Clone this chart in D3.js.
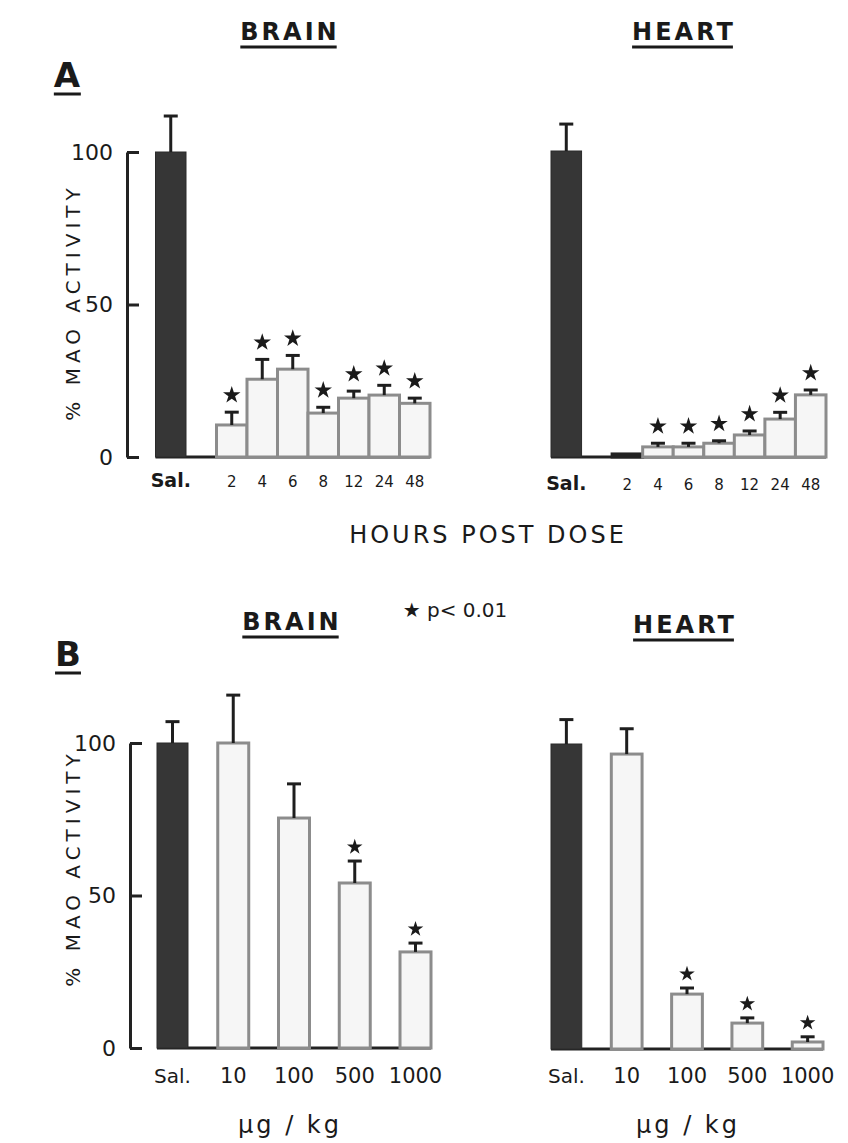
<!DOCTYPE html>
<html>
<head>
<meta charset="utf-8">
<script src="https://cdn.jsdelivr.net/npm/d3@7"></script>
<style>
  body { margin: 0; background: #fff; }
  text { font-family: "DejaVu Sans", "Liberation Sans", sans-serif; fill: #1a1a1a; }
</style>
</head>
<body>
<div id="chart-container"></div>
<script>
// MAO activity figure, panels A (time course) and B (dose response)
const svgWidth = 848;
const svgHeight = 1143;

// panel A: hours post dose
const hourLabels = ["Sal.", "2", "4", "6", "8", "12", "24", "48"];
const brainHourMean = [100, 10.5, 25.5, 28.8, 14.4, 19.3, 20.3, 17.6];
const brainHourErr = [11.8, 4.2, 6.5, 4.5, 1.9, 2.3, 3.2, 1.7];
const brainHourSig = [false, true, true, true, true, true, true, true];
const heartHourMean = [100, 1, 3.3, 3.3, 4.5, 7.2, 12.4, 20.3];
const heartHourErr = [8.8, 0, 1.2, 1.2, 0.8, 1.3, 2.2, 1.6];
const heartHourSig = [false, false, true, true, true, true, true, true];

// panel B: dose (ug/kg)
const doseLabels = ["Sal.", "10", "100", "500", "1000"];
const brainDoseMean = [100, 100, 75.4, 54.1, 31.5];
const brainDoseErr = [7, 15.7, 11.2, 7.2, 2.9];
const brainDoseSig = [false, false, false, true, true];
const heartDoseMean = [100, 96.7, 18, 8.5, 2.3];
const heartDoseErr = [8, 8.3, 2, 1.7, 1.7];
const heartDoseSig = [false, false, true, true, true];

const yTicks = [0, 50, 100];

const svg = d3.select("#chart-container")
    .append("svg")
    .attr("width", svgWidth)
    .attr("height", svgHeight);

// make rows of objects from the arrays
function rows(labels, mean, err, sig) {
    return labels.map((l, i) => ({ label: l, mean: mean[i], err: err[i], sig: sig[i] }));
}

function drawPanel(opt) {
    const data = opt.data;
    const y = d3.scaleLinear().domain([0, 100]).range([opt.y0, opt.y100]);
    const x = d3.scaleBand()
        .domain(opt.domain)
        .range([opt.x0, opt.x1])
        .paddingInner(opt.pad)
        .paddingOuter(0);
    const g = svg.append("g");

    // baseline along zero
    g.append("line")
        .attr("x1", opt.x0)
        .attr("x2", opt.x1)
        .attr("y1", y(0))
        .attr("y2", y(0))
        .attr("stroke", "#222")
        .attr("stroke-width", 3);

    // bars
    g.selectAll(".bar")
        .data(data)
        .enter()
        .append("rect")
        .attr("x", d => x(d.label))
        .attr("y", d => y(d.mean))
        .attr("width", x.bandwidth())
        .attr("height", d => y(0) - y(d.mean))
        .attr("fill", (d, i) => i == 0 ? "#363636" : (d.mean < 2 ? "#222" : "#f6f6f6"))
        .attr("stroke", (d, i) => i == 0 ? "#2a2a2a" : (d.mean < 2 ? "#222" : "#8c8c8c"))
        .attr("stroke-width", (d, i) => i == 0 ? 1 : 3);

    // error bars
    const eb = g.selectAll(".err")
        .data(data.filter(d => d.err > 0))
        .enter()
        .append("g");
    eb.append("line")
        .attr("x1", d => x(d.label) + x.bandwidth() / 2)
        .attr("x2", d => x(d.label) + x.bandwidth() / 2)
        .attr("y1", d => y(d.mean))
        .attr("y2", d => y(d.mean + d.err))
        .attr("stroke", "#1e1e1e")
        .attr("stroke-width", 3);
    eb.append("line")
        .attr("x1", d => x(d.label) + x.bandwidth() / 2 - 7)
        .attr("x2", d => x(d.label) + x.bandwidth() / 2 + 7)
        .attr("y1", d => y(d.mean + d.err))
        .attr("y2", d => y(d.mean + d.err))
        .attr("stroke", "#1e1e1e")
        .attr("stroke-width", 3);

    // stars for p<0.01
    g.selectAll(".star")
        .data(data.filter(d => d.sig))
        .enter()
        .append("path")
        .attr("d", d3.symbol(d3.symbolStar).size(opt.starSize))
        .attr("transform", d => `translate(${x(d.label) + x.bandwidth() / 2}, ${y(d.mean + d.err) - opt.starGap})`)
        .attr("fill", "#1a1a1a");

    // category labels
    g.selectAll(".lab")
        .data(data)
        .enter()
        .append("text")
        .attr("x", d => x(d.label) + x.bandwidth() / 2)
        .attr("y", opt.labelY)
        .attr("text-anchor", "middle")
        .attr("font-size", (d, i) => i == 0 ? opt.salSize : opt.labelSize)
        .attr("font-weight", (d, i) => i == 0 && opt.salBold ? "bold" : "normal")
        .text(d => d.label);

    // y axis bracket
    if (opt.axisX) {
        const ax = g.append("g")
            .attr("transform", `translate(${opt.axisX},0)`)
            .call(d3.axisLeft(y).tickValues(yTicks).tickSizeInner(-12).tickSizeOuter(0).tickPadding(14));
        ax.select(".domain").attr("stroke", "#222").attr("stroke-width", 3);
        ax.selectAll(".tick line").attr("stroke", "#222").attr("stroke-width", 3);
        ax.selectAll(".tick text")
            .attr("font-size", 22)
            .attr("font-family", "DejaVu Sans, sans-serif")
            .attr("fill", "#1a1a1a");
    }
}

function title(txt, cx, by, size, spacing) {
    const t = svg.append("text")
        .attr("x", cx)
        .attr("y", by)
        .attr("text-anchor", "middle")
        .attr("font-size", size)
        .attr("letter-spacing", spacing)
        .attr("font-weight", "bold")
        .text(txt);
    const bb = t.node().getBBox();
    svg.append("line")
        .attr("x1", bb.x)
        .attr("x2", bb.x + bb.width - spacing)
        .attr("y1", by + 7)
        .attr("y2", by + 7)
        .attr("stroke", "#1a1a1a")
        .attr("stroke-width", 3);
}

const hourDomain = ["Sal.", " ", ...hourLabels.slice(1)];

// brain A
drawPanel({
    data: rows(hourLabels, brainHourMean, brainHourErr, brainHourSig),
    domain: hourDomain, x0: 155.5, x1: 430, pad: 0,
    y0: 457, y100: 152, axisX: 127,
    labelY: 487, salSize: 19, labelSize: 15, salBold: true,
    starSize: 95, starGap: 17
});
// heart A
drawPanel({
    data: rows(hourLabels, heartHourMean, heartHourErr, heartHourSig),
    domain: hourDomain, x0: 551, x1: 826, pad: 0,
    y0: 457, y100: 151, axisX: null,
    labelY: 490, salSize: 19, labelSize: 15, salBold: true,
    starSize: 95, starGap: 17
});
// brain B
drawPanel({
    data: rows(doseLabels, brainDoseMean, brainDoseErr, brainDoseSig),
    domain: doseLabels, x0: 157, x1: 431, pad: 0.49,
    y0: 1048, y100: 743, axisX: 130,
    labelY: 1083, salSize: 20, labelSize: 21, salBold: false,
    starSize: 75, starGap: 14
});
// heart B
drawPanel({
    data: rows(doseLabels, heartDoseMean, heartDoseErr, heartDoseSig),
    domain: doseLabels, x0: 551, x1: 823, pad: 0.49,
    y0: 1049, y100: 744, axisX: null,
    labelY: 1083, salSize: 20, labelSize: 21, salBold: false,
    starSize: 75, starGap: 14
});

// titles
title("BRAIN", 290, 40, 24, 3);
title("HEART", 684, 40, 24, 3);
title("BRAIN", 292, 630, 24, 3);
title("HEART", 685, 633, 24, 3);
title("A", 67, 87, 34, 0);
title("B", 68, 666, 34, 0);

// axis captions
svg.append("text")
    .attr("x", 488)
    .attr("y", 543)
    .attr("text-anchor", "middle")
    .attr("font-size", 24)
    .attr("letter-spacing", 3)
    .text("HOURS  POST  DOSE");

svg.append("text")
    .attr("x", 455)
    .attr("y", 617)
    .attr("text-anchor", "middle")
    .attr("font-size", 20)
    .text("★ p< 0.01");

[302, 868].forEach(cy => {
    svg.append("text")
        .attr("transform", `translate(80, ${cy}) rotate(-90)`)
        .attr("text-anchor", "middle")
        .attr("font-size", 20)
        .attr("letter-spacing", 5)
        .text("%  MAO  ACTIVITY");
});

svg.append("text").attr("x", 290).attr("y", 1133).attr("text-anchor", "middle")
    .attr("font-size", 24).attr("letter-spacing", 3).text("μg / kg");
svg.append("text").attr("x", 688).attr("y", 1133).attr("text-anchor", "middle")
    .attr("font-size", 24).attr("letter-spacing", 3).text("μg / kg");
</script>
</body>
</html>
